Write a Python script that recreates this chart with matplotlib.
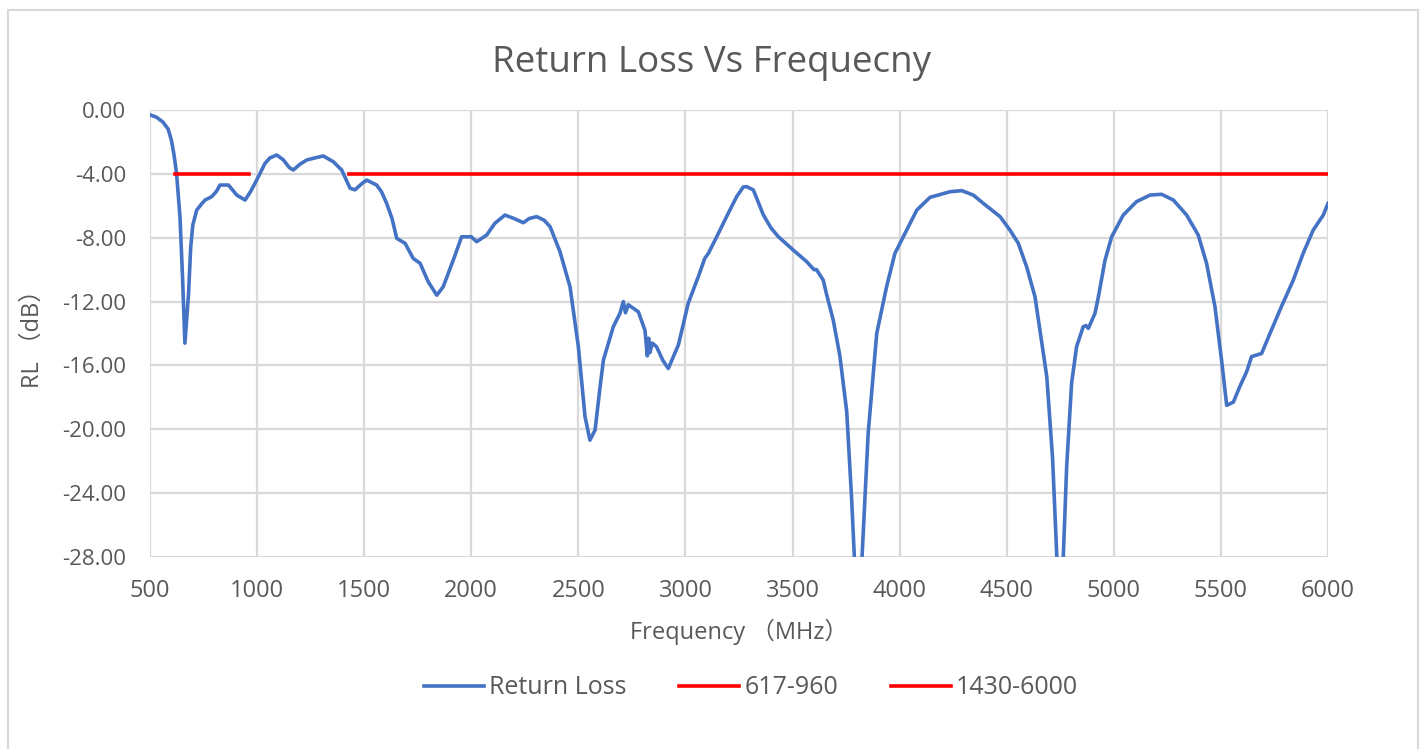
import matplotlib
matplotlib.use("Agg")
import matplotlib.pyplot as plt
from matplotlib.ticker import FormatStrFormatter, MultipleLocator
from matplotlib.patches import Rectangle

plt.rcParams['font.family'] = ['Open Sans', 'Noto Sans CJK SC', 'DejaVu Sans']

# ---------- data ----------
freq = [500, 530, 560, 585, 600, 612, 624, 640, 652, 663, 672, 680, 690, 700, 718,
        740, 757, 788, 810, 827, 866, 885, 905, 944, 970, 998, 1037, 1060, 1092, 1123,
        1150, 1169, 1200, 1232, 1270, 1309, 1356, 1395, 1434, 1457, 1490, 1512, 1558,
        1580, 1605, 1630, 1652, 1691, 1729, 1761, 1799, 1839, 1869, 1916, 1955, 2000,
        2025, 2072, 2110, 2157, 2200, 2243, 2270, 2305, 2340, 2368, 2414, 2461, 2500,
        2531, 2554, 2578, 2600, 2617, 2663, 2694, 2710, 2720, 2733, 2780, 2811, 2822,
        2828, 2834, 2845, 2865, 2895, 2920, 2967, 3013, 3060, 3090, 3107, 3146, 3192,
        3239, 3270, 3286, 3317, 3364, 3400, 3434, 3503, 3566, 3600, 3612, 3643, 3660,
        3690, 3721, 3753, 3776, 3806, 3853, 3893, 3939, 3978, 4033, 4080, 4142, 4235,
        4290, 4344, 4391, 4469, 4515, 4554, 4593, 4632, 4687, 4714, 4750, 4780, 4803,
        4826, 4857, 4870, 4881, 4912, 4928, 4959, 4990, 5044, 5106, 5169, 5223, 5278,
        5340, 5394, 5433, 5472, 5503, 5527, 5558, 5589, 5620, 5643, 5690, 5729, 5783,
        5838, 5884, 5931, 5978, 6000]
rl = [-0.30, -0.45, -0.75, -1.20, -1.90, -2.80, -3.97, -6.70, -10.5, -14.60, -13.0,
      -11.5, -8.6, -7.2, -6.27, -5.9, -5.64, -5.43, -5.1, -4.70, -4.70, -5.0, -5.33,
      -5.64, -5.1, -4.39, -3.34, -3.0, -2.82, -3.13, -3.6, -3.76, -3.4, -3.13, -3.0,
      -2.88, -3.24, -3.76, -4.90, -5.00, -4.6, -4.39, -4.70, -5.1, -5.85, -6.8, -8.04,
      -8.35, -9.30, -9.60, -10.76, -11.60, -11.07, -9.40, -7.94, -7.94, -8.25, -7.83,
      -7.1, -6.58, -6.8, -7.06, -6.8, -6.68, -6.9, -7.31, -8.87, -11.07, -14.83, -19.20,
      -20.68, -20.05, -17.5, -15.66, -13.58, -12.74, -12.00, -12.70, -12.20, -12.64,
      -13.80, -15.4, -14.3, -15.2, -14.6, -14.83, -15.7, -16.19, -14.72, -12.10, -10.44,
      -9.3, -8.98, -7.94, -6.68, -5.43, -4.82, -4.80, -5.01, -6.58, -7.4, -7.94, -8.77,
      -9.50, -10.0, -10.0, -10.65, -11.6, -13.16, -15.4, -18.9, -24.4, -33.0, -20.26,
      -14.0, -11.07, -8.98, -7.52, -6.27, -5.47, -5.12, -5.05, -5.33, -5.85, -6.68,
      -7.52, -8.35, -9.82, -11.70, -16.70, -21.8, -33.0, -22.3, -17.1, -14.83, -13.58,
      -13.5, -13.68, -12.74, -11.70, -9.40, -7.94, -6.58, -5.74, -5.33, -5.28, -5.64,
      -6.58, -7.83, -9.60, -12.30, -15.66, -18.50, -18.30, -17.30, -16.40, -15.45,
      -15.25, -14.00, -12.30, -10.65, -8.98, -7.52, -6.58, -5.85]

band_low_freq = [617, 960]
band_low_rl = [-4, -4]
band_high_freq = [1430, 6000]
band_high_rl = [-4, -4]

# ---------- chart ----------
text_color = "#595959"
grid_color = "#D9D9D9"

fig = plt.figure(figsize=(14.24, 7.49), dpi=100)
ax = fig.add_axes([150/1424, 1-557/749, (1328-150)/1424, (557-110)/749])

ax.plot(freq, rl, color="#4472C4", linewidth=2.6, label="Return Loss", zorder=3)
ax.plot(band_low_freq, band_low_rl, color="#FF0000", linewidth=2.6, label="617-960", zorder=4)
ax.plot(band_high_freq, band_high_rl, color="#FF0000", linewidth=2.6, label="1430-6000", zorder=4)

ax.set_xlim(500, 6000)
ax.set_ylim(-28, 0)
ax.xaxis.set_major_locator(MultipleLocator(500))
ax.yaxis.set_major_locator(MultipleLocator(4))
ax.yaxis.set_major_formatter(FormatStrFormatter('%.2f'))

ax.grid(True, color=grid_color, linewidth=1.6)
ax.set_axisbelow(True)
for s in ax.spines.values():
    s.set_visible(False)
ax.tick_params(length=0, colors=text_color)
ax.tick_params(axis="x", pad=16, labelsize=17)
ax.tick_params(axis="y", pad=17, labelsize=16)

ax.set_xlabel("Frequency （MHz）", fontsize=17, color=text_color, va="center")
ax.xaxis.set_label_coords(0.5, (557-632)/447)
ax.set_ylabel("RL （dB）", fontsize=17, color=text_color, va="center")
ax.yaxis.set_label_coords((33-150)/1178, 0.5)

fig.text(0.5, 1-63/749, "Return Loss Vs Frequecny", ha="center", va="center",
         fontsize=26.5, color=text_color)

fig.legend(loc="center", bbox_to_anchor=(0.5275, 1-688/749), ncol=3, frameon=False,
           fontsize=18, labelcolor=text_color, handlelength=2.4, handletextpad=0.2,
           columnspacing=2.1)

# chart area border
fig.patches.append(Rectangle((8/1424, -0.05), 1410/1424, 1.05-10/749, transform=fig.transFigure,
                             fill=False, edgecolor=grid_color, linewidth=1.5))

plt.savefig("out.png", dpi=100)
plt.close()
